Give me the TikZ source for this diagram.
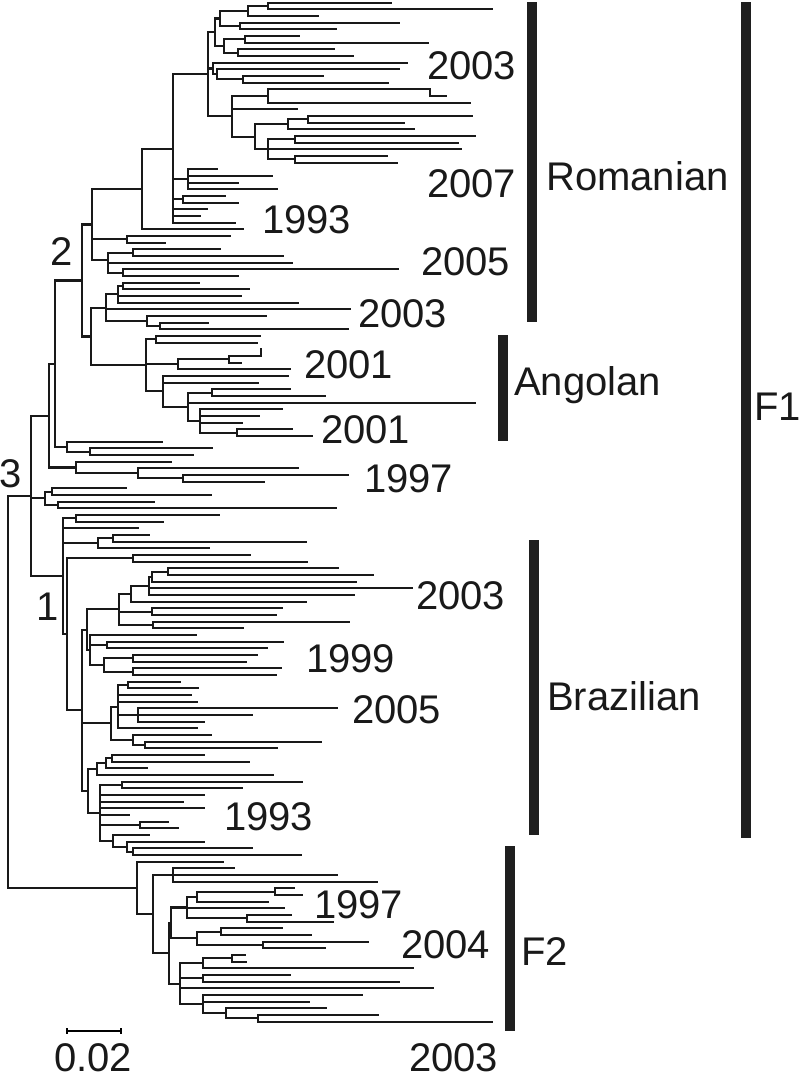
\documentclass[tikz,border=0pt]{standalone}
\usepackage{fontspec}
\setmainfont{Liberation Sans}
\begin{document}
\begin{tikzpicture}[x=1pt,y=-1pt,
  br/.style={line width=2.1pt,line cap=rect,color=black!90},
  lab/.style={anchor=base west,inner sep=0pt,font=\fontsize{40}{48}\selectfont,text=black!90},
  bar/.style={fill=black!88}]
\useasboundingbox (0,0) rectangle (800,1078);
% leaves and connectors (horizontal segments)
\foreach \y/\a/\b in {
2.7/268/391, 9.3/268/492, 16/248/318, 22.7/240/399, 29.3/240/336, 36/245/299, 42.7/245/428,
49.3/238/334, 56/238/353, 62.7/213/407, 69.3/217/399, 76/243/323, 82.7/243/388, 89.3/268/430,
96/430/446, 102.7/268/470, 109.3/232/297, 116/308/472, 122.7/308/404, 129.3/288/414, 136/295/475,
142.7/295/458, 149.3/268/461, 156/295/387, 162.7/295/397, 169.3/188/217, 176/188/272, 182.7/188/238,
189.3/188/277, 196/183/225, 202.7/183/238, 209.3/173/207, 216/173/200, 222.7/173/235, 229.3/142/243,
236/127/230, 242.7/127/165, 249.3/133/220, 256/133/283, 262.7/108/292, 269.3/123/398, 276/123/238,
282.7/123/199, 289.3/123/249, 296/118/241, 302.7/118/298, 309.3/106/350, 316/147/266, 322.7/160/208,
329.3/160/348, 336/156/260, 342.7/156/257, 356/229/261, 362.7/229/241, 369.3/178/290, 376/163/288,
382.7/163/258, 389.3/212/290, 396/212/325, 402.7/188/475, 409.3/200/282, 416/200/259, 422.7/200/242,
429.3/237/292, 436/237/312, 441.7/67/162, 448.3/90/212, 455/90/193, 461.7/76/171, 468.3/138/298,
475/183/348, 481.7/183/264, 488.3/52/126, 495/52/211, 501.7/58/154, 508.3/58/336, 515/76/219,
521.7/76/163, 528.3/63/138, 535/113/149, 541.7/113/306, 548.3/98/209, 555/133/250, 561.7/133/307,
568.3/168/338, 575/168/373, 581.7/152/356, 588.3/149/412, 595/149/354, 601.7/131/306, 608.3/152/282,
615/152/276, 621.7/153/349, 628.3/153/243, 635/90/196, 641.7/107/283, 648.3/107/267, 655/133/257,
661.7/133/246, 668.3/133/281, 675/133/276, 681.7/128/180, 688.3/128/198, 695/118/191, 701.7/118/197,
708.3/138/337, 715/138/252, 721.7/138/204, 728.3/118/197, 735/133/211, 741.7/145/321, 748.3/145/277,
755/112/204, 761.7/112/249, 768.3/106/147, 775/97/273, 781.7/122/302, 788.3/122/242, 795/100/204,
801.7/100/183, 808.3/100/204, 815/100/129, 821.7/140/168, 828.3/140/178, 835/113/149, 841.7/127/204,
848.3/133/252, 855/133/301, 861.7/137/223, 868.3/173/234, 875/173/337, 881.7/173/377, 888.3/275/294,
895/275/302, 901.7/197/268, 908.3/187/284, 915/247/291, 921.7/247/333, 928.3/221/282, 935/221/311,
941.7/263/368, 948.3/263/325, 955/232/245, 961.7/232/246, 968.3/203/413, 975/203/290, 981.7/203/399,
988.3/180/433, 995/203/362, 1001.7/203/309, 1008.3/226/326, 1015/258/378, 1021.7/258/492,
6/248/268, 11/220/248, 26/220/240, 18.5/215/220, 39.3/224/245, 52.7/224/238, 46/215/224, 32.3/208/215,
79.3/217/243, 74.3/213/217, 68.5/208/213, 96/232/268, 119.3/288/308, 124.3/255/288, 139.3/268/295,
159.3/268/295, 149.3/255/268, 136.8/232/255, 116.4/208/232, 74.4/173/208, 179.3/173/188, 199.3/173/183,
148.6/142/173, 189/92/142, 239.3/92/127, 252.7/108/133, 272.7/108/123, 260/92/108, 224.5/82/92,
286/118/123, 294.3/106/118, 326/147/160, 321/106/147, 307.7/91/106, 339.3/146/156, 359.3/178/229,
364.3/146/178, 392.7/188/212, 432.7/200/237, 421/188/200, 406.8/163/188, 391.4/146/163, 365.4/91/146,
336.5/82/91, 280.5/55/82, 451.7/67/90, 446.7/55/67, 363.6/49/55, 478.3/138/183, 473.3/76/138,
467.5/49/76, 415.6/31/49, 491.7/45/52, 505/45/58, 498.3/31/45, 518.3/63/76, 538.3/98/113, 543.3/63/98,
558.3/67/133, 571.7/152/168, 576.7/149/152, 585.8/131/149, 593.8/119/131, 611.7/119/152, 625/119/153,
609.4/87/119, 645/90/107, 658.3/104/133, 671.7/104/133, 665/90/104, 650/87/90, 629.7/82/87, 685/118/128,
715/118/138, 706.7/111/118, 745/133/145, 740/111/133, 723.3/82/111, 758.3/106/112, 763.3/97/106,
769.2/88/97, 785/100/122, 825/100/140, 851.7/127/133, 846.7/113/127, 840.8/100/113, 812.9/88/100,
791/82/88, 710.4/67/82, 634.3/63/67, 576.3/31/63, 496/8/31, 875/153/173, 891.7/197/275, 896.7/187/197,
918.3/187/247, 907.5/171/187, 931.7/197/221, 945/197/263, 938.3/171/197, 922.9/169/171, 958.3/203/232,
963.3/180/203, 978.3/180/203, 1018.3/226/258, 1013.3/203/226, 1004.2/180/203, 983.7/169/180,
953.3/153/169, 914.2/137/153, 888/8/137}
  \draw[br] (\a,\y) -- (\b,\y);
% vertical segments
\foreach \x/\a/\b in {
268/2.7/9.3, 248/6/16, 240/22.7/29.3, 220/11/26, 245/36/42.7, 238/49.3/56, 224/39.3/52.7, 215/18.5/46,
243/76/82.7, 217/69.3/79.3, 213/62.7/74.3, 430/89.3/96, 268/89.3/102.7, 308/116/122.7, 288/119.3/129.3,
295/136/142.7, 295/156/162.7, 268/139.3/159.3, 255/124.3/149.3, 232/96/136.8, 208/32.3/116.4,
188/169.3/189.3, 183/196/202.7, 173/74.4/222.7, 142/148.6/229.3, 127/236/242.7, 133/249.3/256,
123/269.3/276, 108/252.7/272.7, 92/189/260, 123/282.7/289.3, 118/286/302.7, 160/322.7/329.3,
147/316/326, 106/294.3/321, 82/224.5/336.5, 156/336/342.7, 261/349.3/356, 229/356/362.7,
178/359.3/369.3, 212/389.3/396, 237/429.3/436, 200/409.3/432.7, 188/392.7/421, 163/376/406.8,
146/339.3/391.4, 91/307.7/365.4, 90/448.3/455, 67/441.7/451.7, 55/280.5/446.7, 183/475/481.7,
138/468.3/478.3, 76/461.7/473.3, 49/363.6/467.5, 52/488.3/495, 58/501.7/508.3, 45/491.7/505,
76/515/521.7, 113/535/541.7, 98/538.3/548.3, 133/555/561.7, 168/568.3/575, 152/571.7/581.7,
149/576.7/595, 131/585.8/601.7, 152/608.3/615, 153/621.7/628.3, 119/593.8/625, 107/641.7/648.3,
133/655/661.7, 133/668.3/675, 104/658.3/671.7, 90/635/665, 87/609.4/650, 128/681.7/688.3,
138/708.3/721.7, 118/685/728.3, 145/741.7/748.3, 133/735/745, 111/706.7/740, 112/755/761.7,
106/758.3/768.3, 97/763.3/775, 122/781.7/788.3, 140/821.7/828.3, 133/848.3/855, 127/841.7/851.7,
113/835/846.7, 100/785/840.8, 88/769.2/812.9, 82/629.7/791, 67/558.3/710.4, 63/518.3/634.3,
31/415.6/576.3, 8/496/888, 173/868.3/881.7, 275/888.3/895, 197/891.7/901.7, 247/915/921.7,
187/896.7/918.3, 221/928.3/935, 263/941.7/948.3, 197/931.7/945, 171/907.5/938.3, 232/955/961.7,
203/958.3/968.3, 203/975/981.7, 258/1015/1021.7, 226/1008.3/1018.3, 203/995/1013.3, 180/963.3/1004.2,
169/922.9/983.7, 153/875/953.3, 137/861.7/914.2}
  \draw[br] (\x,\a) -- (\x,\b);
% clade bars
\fill[bar] (527,2) rectangle (537,322);
\fill[bar] (498,335) rectangle (508,441);
\fill[bar] (529,540) rectangle (539,835);
\fill[bar] (741,2) rectangle (751,838);
\fill[bar] (505,846) rectangle (515,1031);
% scale bar
\coordinate (sbl) at (67,1030.7);
\coordinate (sbr) at (121,1030.7);
\draw[line width=1.8pt] (sbl) -- (sbr);
\draw[line width=1.8pt] ([yshift=-3pt]sbl) -- ([yshift=3pt]sbl);
\draw[line width=1.8pt] ([yshift=-3pt]sbr) -- ([yshift=3pt]sbr);
% labels
\node[lab] (y1) at (427,80) {2003};
\node[lab] (y2) at (427,197) {2007};
\node[lab] (y3) at (262,233) {1993};
\node[lab] (y4) at (421,275) {2005};
\node[lab] (y5) at (358,327) {2003};
\node[lab] (y6) at (304,378) {2001};
\node[lab] (y7) at (321,443) {2001};
\node[lab] (y8) at (364,492) {1997};
\node[lab] (y9) at (416,609) {2003};
\node[lab] (y10) at (306,672) {1999};
\node[lab] (y11) at (352,723) {2005};
\node[lab] (y12) at (224,830) {1993};
\node[lab] (y13) at (314,918) {1997};
\node[lab] (y14) at (401,958) {2004};
\node[lab] (y15) at (409,1071) {2003};
\node[lab] (sc) at (54,1071) {0.02};
\node[lab] (n2) at (50,265) {2};
\node[lab] (n3) at (-1,487) {3};
\node[lab] (n1) at (36,620) {1};
\node[lab] (rom) at (546,190) {Romanian};
\node[lab] (ang) at (514,395) {Angolan};
\node[lab] (bra) at (547,710) {Brazilian};
\node[lab] (f1) at (754,420) {F1};
\node[lab] (f2) at (521,965) {F2};
\end{tikzpicture}
\end{document}
